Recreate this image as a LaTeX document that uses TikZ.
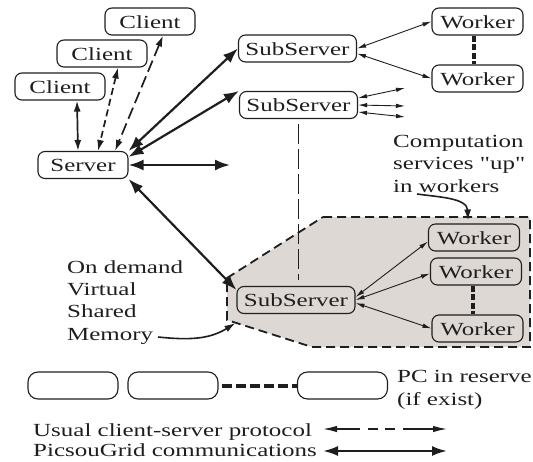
\documentclass[tikz,border=0pt]{standalone}
\usepackage{fontspec}
\setmainfont{Liberation Serif}[FakeStretch=1.35, Ligatures=TeXOff]
\usetikzlibrary{arrows.meta}
\definecolor{shade}{RGB}{221,216,212}
\definecolor{ink}{RGB}{30,30,30}
\begin{document}
\begin{tikzpicture}[x=1pt,y=-1pt,
  every node/.style={font=\fontsize{18.5}{22}\selectfont, text=ink},
  box/.style={draw=ink, line width=1.1pt, rounded corners=7pt, inner sep=0pt, minimum height=27pt, text height=13pt, text depth=0pt},
  cbox/.style={box, minimum width=90pt},
  wbox/.style={box, minimum width=91pt},
  sbox/.style={box, minimum width=118pt},
  pcbox/.style={box, minimum width=90pt, rounded corners=10pt},
  lbl/.style={anchor=base west, inner sep=0pt},
  gridarrow/.style={line width=2.2pt, draw=ink, {Latex[length=15pt,width=11pt]}-{Latex[length=15pt,width=11pt]}},
  csarrow/.style={line width=1.7pt, draw=ink, {Latex[length=11pt,width=7pt]}-{Latex[length=11pt,width=7pt]}},
  thinarrow/.style={line width=0.9pt, draw=ink, {Latex[length=9pt,width=4.5pt]}-{Latex[length=9pt,width=4.5pt]}},
  heavydash/.style={line width=4pt, draw=ink, dash pattern=on 6pt off 2.5pt},
  pcdash/.style={line width=4pt, draw=ink, dash pattern=on 10pt off 4pt, shorten <=3pt},
  longdash/.style={line width=1.8pt, draw=ink, dash pattern=on 20pt off 5pt},
  curvearrow/.style={line width=1.6pt, draw=ink, -{Latex[length=11pt,width=7pt]}},
  poly/.style={draw=ink, fill=shade, line width=1.8pt, dash pattern=on 9pt off 5pt},
  legdash/.style={line width=1.3pt, draw=ink, {Latex[length=14pt,width=6.5pt]}-{Latex[length=14pt,width=6.5pt]}, dash pattern=on 24pt off 8pt on 10pt off 7pt on 10pt off 8pt on 60pt},
  legsolid/.style={line width=2.2pt, draw=ink, {Latex[length=15pt,width=10pt]}-{Latex[length=15pt,width=10pt]}}
]
\useasboundingbox (0,0) rectangle (533,461);

% shaded region
\draw[poly] (323,217) -- (530,217) -- (530,347) -- (312,347) -- (227,320) -- (227,278) -- cycle;

% boxes
\node[cbox] (cl1) at (150,21.5) {Client};
\node[cbox] (cl2) at (102,53.5) {Client};
\node[cbox] (cl3) at (60,86.5) {Client};
\node[cbox] (srv) at (83,165) {Server};
\node[sbox] (ss1) at (297.5,48.5) {SubServer};
\node[wbox] (w1) at (477.5,21.5) {Worker};
\node[wbox] (w2) at (477.5,78.5) {Worker};
\node[sbox] (ss2) at (298.5,105) {SubServer};
\node[wbox] (w3) at (474,237.5) {Worker};
\node[wbox] (w4) at (476,271.5) {Worker};
\node[wbox] (w5) at (477.5,328.5) {Worker};
\node[sbox] (ss3) at (296,300) {SubServer};
\node[pcbox] (pc1) at (73,385.5) {};
\node[pcbox] (pc2) at (173,385.5) {};
\node[pcbox] (pc3) at (342.5,385.5) {};

% texts
\node[lbl] (comp1) at (393,147) {Computation};
\node[lbl] (comp2) at (393,169.5) {services "up"};
\node[lbl] (comp3) at (393,192) {in workers};
\node[lbl] (od1) at (67,273) {On demand};
\node[lbl] (od2) at (67,295) {Virtual};
\node[lbl] (od3) at (67,317) {Shared};
\node[lbl] (od4) at (67,340) {Memory};
\node[lbl] (pct1) at (397,382) {PC in reserve};
\node[lbl] (pct2) at (397,405) {(if exist)};
\node[lbl] (lg1) at (33,436) {Usual client-server protocol};
\node[lbl] (lg2) at (33,456.5) {PicsouGrid communications};

% free ends
\coordinate (hfree) at (230,165);
\coordinate (st1) at (405,88);
\coordinate (st2) at (405,106);
\coordinate (st3) at (405,117);
\coordinate (cstart) at (417,194);
\coordinate (mstart) at (158,337);
\coordinate (la1) at (323,429);
\coordinate (lb1) at (447,429);
\coordinate (la2) at (323,451);
\coordinate (lb2) at (447,451);

% client-server
\draw[csarrow] ([xshift=17pt]cl3.south) -- ([xshift=-5pt]srv.north);
\draw[csarrow, dash pattern=on 7pt off 4pt] ([xshift=16pt]cl2.south) -- ([xshift=15pt]srv.north);
\draw[csarrow, dash pattern=on 12pt off 5pt] ([xshift=13pt]cl1.south) -- ([xshift=32pt]srv.north);

% PicsouGrid communications
\draw[gridarrow] (srv.north east) -- (ss1.west);
\draw[gridarrow] ([yshift=-6pt]srv.north east) -- (ss2.north west);
\draw[gridarrow] (srv.east) -- (hfree);
\draw[gridarrow] (srv.south east) -- ([yshift=-4pt]ss3.north west);

% subserver - worker
\draw[thinarrow] (ss1.east) -- (w1.west);
\draw[thinarrow] ([yshift=-5pt]ss1.east) -- (w2.west);
\draw[thinarrow] ([yshift=7pt]ss2.east) -- (st1);
\draw[thinarrow] (ss2.east) -- (st2);
\draw[thinarrow] ([yshift=-7pt]ss2.east) -- (st3);
\draw[thinarrow] ([yshift=3pt]ss3.east) -- ([yshift=-4pt]w3.west);
\draw[thinarrow] (ss3.east) -- ([yshift=-2pt]w4.west);
\draw[thinarrow] ([yshift=-3pt]ss3.east) -- (w5.west);

% dashed links
\draw[heavydash] ([xshift=-4pt]w1.south) -- ([xshift=-4pt]w2.north);
\draw[heavydash] ([xshift=-3pt]w4.south) -- ([xshift=-4.5pt]w5.north);
\draw[pcdash] (pc2.east) -- (pc3.west);
\draw[longdash, shorten <=5pt, shorten >=6pt] (ss2.south) -- (ss2.south |- ss3.north);

% annotations
\draw[curvearrow] (cstart) to[out=-8,in=92] ([xshift=-6pt,yshift=3pt]w3.north);
\draw[curvearrow] (mstart) to[out=-6,in=212] ([xshift=-1pt,yshift=-9pt]ss3.south west);

% legend
\draw[legdash] (la1) -- (lb1);
\draw[legsolid] (la2) -- (lb2);
\end{tikzpicture}
\end{document}
